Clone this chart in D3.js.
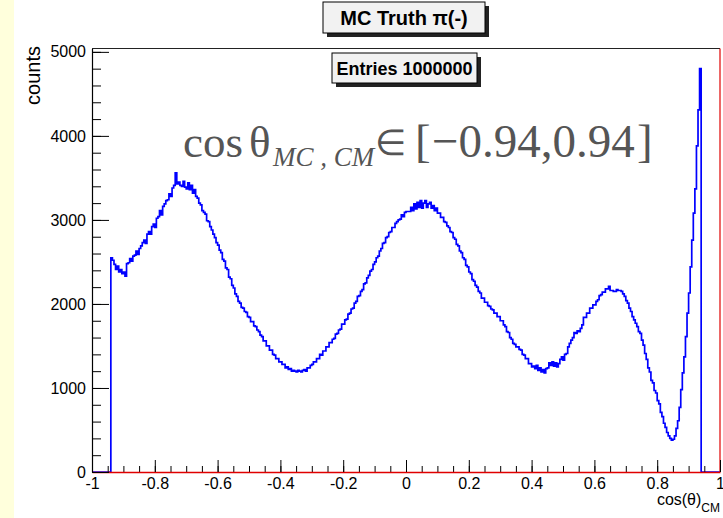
<!DOCTYPE html>
<html>
<head>
<meta charset="utf-8">
<script src="https://cdn.jsdelivr.net/npm/d3@7"></script>
<style>
html,body{margin:0;padding:0;background:#fff;}
svg{display:block;}
</style>
</head>
<body>
<script>
// ---- data ----
const binLow = -0.94;      // lower edge of first filled bin
const binWidth = 0.005;    // bin width
const counts = [
2550,2520,2470,2410,2450,2380,2410,2360,2380,2330,
2480,2490,2540,2510,2570,2580,2630,2590,2660,2690,
2730,2760,2720,2830,2860,2830,2920,2950,2910,3020,
3040,3110,3060,3160,3190,3230,3240,3310,3280,3380,
3410,3560,3430,3450,3410,3400,3460,3390,3370,3440,
3360,3410,3320,3360,3280,3260,3200,3180,3110,3090,
3070,2990,2980,2920,2880,2830,2790,2730,2700,2640,
2610,2530,2510,2430,2410,2320,2300,2220,2190,2120,
2090,2030,2010,1960,1950,1910,1900,1850,1840,1790,
1790,1740,1730,1690,1670,1630,1610,1560,1560,1500,
1500,1450,1450,1400,1390,1350,1350,1310,1310,1280,
1280,1240,1250,1220,1230,1200,1210,1200,1190,1210,
1200,1190,1210,1220,1200,1240,1240,1270,1280,1310,
1310,1350,1350,1400,1390,1440,1440,1490,1490,1540,
1540,1580,1590,1640,1650,1690,1700,1760,1760,1810,
1820,1880,1890,1940,1950,2010,2030,2090,2100,2150,
2170,2240,2250,2310,2340,2390,2410,2470,2500,2550,
2570,2630,2660,2720,2730,2790,2800,2850,2860,2910,
2910,2960,2980,3000,3010,3060,3040,3090,3100,3100,
3100,3150,3110,3190,3130,3210,3150,3230,3140,3200,
3230,3150,3190,3210,3140,3170,3110,3140,3080,3080,
3030,3030,2980,2970,2930,2910,2860,2850,2790,2770,
2710,2690,2630,2610,2550,2530,2460,2440,2380,2360,
2290,2270,2220,2200,2150,2130,2070,2070,2020,2020,
1980,1970,1940,1930,1890,1890,1850,1850,1800,1800,
1750,1730,1670,1660,1600,1580,1530,1520,1490,1490,
1460,1450,1400,1390,1350,1350,1290,1290,1250,1260,
1230,1270,1210,1240,1190,1220,1180,1230,1240,1300,
1270,1310,1260,1300,1250,1290,1340,1370,1330,1400,
1410,1490,1530,1570,1600,1660,1650,1680,1670,1710,
1750,1840,1840,1890,1890,1950,1950,1990,1990,2030,
2050,2100,2110,2140,2140,2180,2180,2210,2160,2160,
2150,2150,2170,2160,2160,2150,2120,2090,2040,2010,
1950,1910,1850,1810,1770,1730,1670,1650,1570,1510,
1410,1340,1240,1190,1090,1060,970,940,850,810,
710,660,580,530,470,430,400,380,390,430,
520,610,770,980,1180,1370,1610,1890,2130,2440,
2760,3080,3370,3880,4310,4800
];
const xMajorTicks = [-1,-0.8,-0.6,-0.4,-0.2,0,0.2,0.4,0.6,0.8,1];
const xTickLabels = ["-1","-0.8","-0.6","-0.4","-0.2","0","0.2","0.4","0.6","0.8","1"];
const yMajorTicks = [0,1000,2000,3000,4000,5000];
const yTickLabels = ["0","1000","2000","3000","4000","5000"];
const titleText = "MC Truth \u03C0(-)";
const statsText = "Entries 1000000";
const yTitle = "counts";

// ---- layout ----
const W = 723, H = 518;
const svg = d3.select("body").append("svg").attr("width", W).attr("height", H);
svg.append("rect").attr("x",0).attr("y",0).attr("width",W).attr("height",H).attr("fill","#fff");
svg.append("rect").attr("x",0).attr("y",0).attr("width",14).attr("height",H).attr("fill","#ffffdc");

const yMax = 1.05 * d3.max(counts);
const x = d3.scaleLinear().domain([-1,1]).range([92,720]);
const y = d3.scaleLinear().domain([0,yMax]).range([472,48.5]);

// histogram as step line
const pts = [[-1,0]];
counts.forEach((c,i)=>pts.push([binLow + i*binWidth, c]));
pts.push([binLow + counts.length*binWidth, 0]);
pts.push([1,0]);
const line = d3.line().x(d=>x(d[0])).y(d=>y(d[1])).curve(d3.curveStepAfter);
svg.append("path").attr("d", line(pts)).attr("fill","none")
  .attr("stroke","#0000ff").attr("stroke-width",1.7).attr("stroke-linejoin","miter");

// frame top + right
svg.append("line").attr("x1",x(-1)).attr("x2",x(1)).attr("y1",y(yMax)).attr("y2",y(yMax))
  .attr("stroke","#222").attr("stroke-width",1);
svg.append("line").attr("x1",x(1)).attr("x2",x(1)).attr("y1",y(yMax)).attr("y2",y(0))
  .attr("stroke","#e00000").attr("stroke-width",1.2);

const fontSans = "'Liberation Sans', Arial, Helvetica, sans-serif";

// x minor ticks
const xMinor = d3.range(0,41).map(i=>-1+i*0.05);
svg.append("g").attr("transform",`translate(0,${y(0)})`)
  .call(d3.axisBottom(x).tickValues(xMinor).tickSizeInner(-6).tickSizeOuter(0).tickFormat(""))
  .call(g=>g.select(".domain").remove())
  .call(g=>g.selectAll(".tick line").attr("stroke","#000"));
// x major
const xAx = svg.append("g").attr("transform",`translate(0,${y(0)})`)
  .call(d3.axisBottom(x).tickValues(xMajorTicks).tickSizeInner(-12).tickSizeOuter(0).tickPadding(6)
        .tickFormat((d,i)=>xTickLabels[i]));
xAx.select(".domain").attr("stroke","#e00000").attr("stroke-width",1.4);
xAx.selectAll(".tick line").attr("stroke","#000");
xAx.selectAll("text").attr("font-family",fontSans).attr("font-size",16).attr("fill","#000");

// y minor
const yMinor = d3.range(0,26).map(i=>i*200);
svg.append("g").attr("transform",`translate(${x(-1)},0)`)
  .call(d3.axisLeft(y).tickValues(yMinor).tickSizeInner(-9).tickSizeOuter(0).tickFormat(""))
  .call(g=>g.select(".domain").remove())
  .call(g=>g.selectAll(".tick line").attr("stroke","#000"));
const yAx = svg.append("g").attr("transform",`translate(${x(-1)},0)`)
  .call(d3.axisLeft(y).tickValues(yMajorTicks).tickSizeInner(-17).tickSizeOuter(0).tickPadding(6)
        .tickFormat((d,i)=>yTickLabels[i]));
yAx.select(".domain").attr("stroke","#000").attr("stroke-width",1.2);
yAx.selectAll(".tick line").attr("stroke","#000");
yAx.selectAll("text").attr("font-family",fontSans).attr("font-size",16).attr("fill","#000");

// axis titles
svg.append("text").attr("transform","translate(40,46) rotate(-90)")
  .attr("text-anchor","end").attr("font-family",fontSans).attr("font-size",20).text(yTitle);
const xt = svg.append("text").attr("x",720).attr("y",505).attr("text-anchor","end")
  .attr("font-family",fontSans).attr("font-size",16);
xt.append("tspan").text("cos(\u03B8)");
xt.append("tspan").attr("font-size",12).attr("dy",7).text("CM");

// boxes with shadow
function box(x0,y0,w,h,txt,fs,base){
  svg.append("rect").attr("x",x0+4).attr("y",y0+4).attr("width",w).attr("height",h).attr("fill","#222");
  svg.append("rect").attr("x",x0).attr("y",y0).attr("width",w).attr("height",h)
    .attr("fill","#f2f2f2").attr("stroke","#000").attr("stroke-width",1);
  svg.append("text").attr("x",x0+w/2).attr("y",base).attr("text-anchor","middle")
    .attr("font-family",fontSans).attr("font-weight","bold").attr("font-size",fs).text(txt);
}
box(323,2,162,31,titleText,20,25);
box(332,53,145,30,statsText,18,75);

// latex annotation
const fontSerif = "'Liberation Serif', 'Times New Roman', serif";
const ann = svg.append("g").attr("fill","#555").attr("font-family",fontSerif);
ann.append("text").attr("x",183).attr("y",157).attr("font-size",45).text("cos");
ann.append("text").attr("x",249).attr("y",157).attr("font-size",45).text("\u03B8");
ann.append("text").attr("x",273).attr("y",166).attr("font-size",27).attr("font-style","italic").text("MC , CM");
ann.append("text").attr("x",375).attr("y",155).attr("font-size",36)
  .attr("font-family","'DejaVu Sans', sans-serif").attr("font-weight",200).text("\u2208");
ann.append("text").attr("x",415).attr("y",157).attr("font-size",47).text("[");
ann.append("text").attr("x",432).attr("y",157).attr("font-size",47).text("\u22120.94,0.94");
ann.append("text").attr("x",637).attr("y",157).attr("font-size",47).text("]");
</script>
</body>
</html>
